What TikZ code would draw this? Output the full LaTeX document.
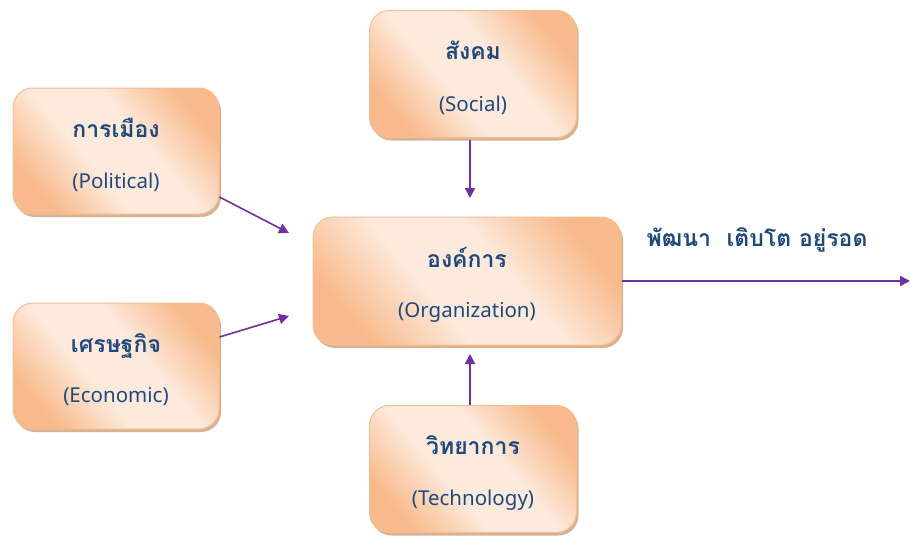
\documentclass[tikz,border=0pt]{standalone}
\usepackage{fontspec}
\setmainfont[Script=Thai]{Loma}
\newfontfamily\latfont{Noto Sans}
\usetikzlibrary{arrows.meta,shadows}
\definecolor{txtblue}{RGB}{31,73,125}
\definecolor{arrpurple}{RGB}{112,48,160}
\definecolor{pdark}{RGB}{248,186,140}
\definecolor{plight}{RGB}{253,234,220}
\definecolor{pedge}{RGB}{245,190,145}
\definecolor{pshadow}{RGB}{205,160,120}
\pgfdeclareverticalshading{peach}{100bp}{color(0bp)=(pdark); color(25bp)=(pdark); color(42bp)=(plight); color(58bp)=(plight); color(75bp)=(pdark); color(100bp)=(pdark)}
\tikzset{
  box/.style={rounded corners=20pt, draw=pedge, line width=1pt,
    shading=peach, shading angle=-50,
    drop shadow={shadow xshift=2pt, shadow yshift=-3pt, fill=pshadow, opacity=0.8},
    align=center, text=txtblue, inner sep=0pt},
  arr/.style={draw=arrpurple, line width=1.6pt, -{Triangle[length=10pt,width=10pt]}},
  th/.style={font=\bfseries\fontsize{23}{26}\selectfont},
}
\newcommand{\boxtext}[2]{\raisebox{-4pt}[\height][\depth]{\begin{tabular}{@{}c@{}}{\bfseries\fontsize{23}{26}\selectfont #1}\\[32pt]{\latfont\fontsize{20.5}{22}\selectfont #2}\end{tabular}}}
\begin{document}
\begin{tikzpicture}[x=1pt,y=-1pt]
\useasboundingbox (0,0) rectangle (910,538);
\node[box, minimum width=206pt, minimum height=126pt] (pol) at (116,151) {\boxtext{การเมือง}{(Political)}};
\node[box, minimum width=206pt, minimum height=126pt] (eco) at (116,366) {\boxtext{เศรษฐกิจ}{(Economic)}};
\node[box, minimum width=207pt, minimum height=127pt] (soc) at (473,74) {\boxtext{สังคม}{(Social)}};
\node[box, minimum width=308pt, minimum height=128pt] (org) at (467,281) {\boxtext{องค์การ}{(Organization)}};
\node[box, minimum width=207pt, minimum height=127pt] (tec) at (473,469) {\boxtext{วิทยาการ}{(Technology)}};
\node[th, text=txtblue, anchor=west] (dev) at (643,240) {พัฒนา\ \ เติบโต อยู่รอด};
\coordinate (out) at (910,281);
\coordinate (polend) at (289,233);
\coordinate (ecoend) at (289,316);
\coordinate (socend) at (470,198);
\coordinate (tecend) at (470,354);
\draw[arr] (470,140) -- (socend);
\draw[arr] (470,405) -- (tecend);
\draw[arr] (pol.east |- 0,197) -- (polend);
\draw[arr] (eco.east |- 0,337) -- (ecoend);
\draw[arr] (org.east) -- (out);
\end{tikzpicture}
\end{document}
